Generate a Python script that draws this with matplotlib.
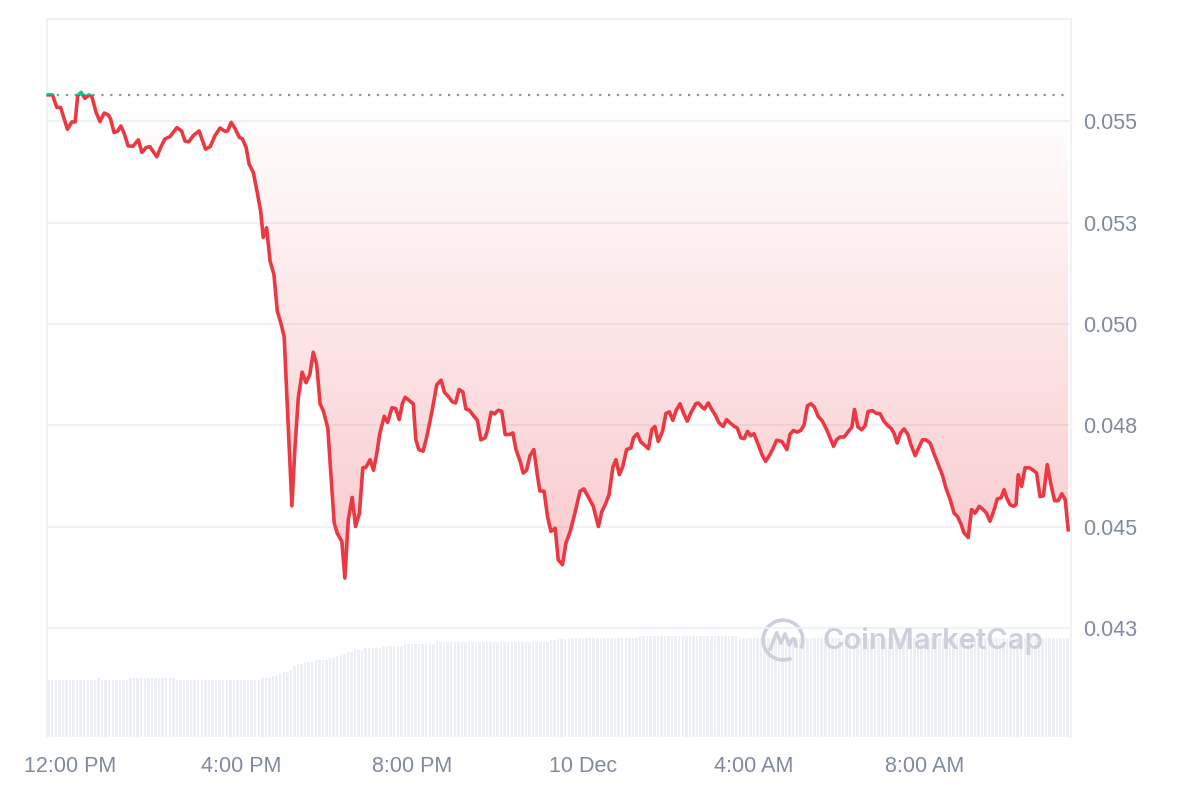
import numpy as np
import matplotlib
matplotlib.use("Agg")
import matplotlib.pyplot as plt
from matplotlib.patches import Rectangle, Arc

# hours after 12:00 PM (9 Dec)
hours = [
    -0.51, -0.41, -0.31, -0.22, -0.06, 0.04, 0.12, 0.18, 0.26, 0.35,
    0.44, 0.51, 0.61, 0.70, 0.80, 0.90, 0.95, 1.03, 1.11, 1.19,
    1.26, 1.36, 1.47, 1.60, 1.68, 1.78, 1.87, 2.03, 2.12, 2.22,
    2.34, 2.50, 2.61, 2.69, 2.78, 2.88, 3.02, 3.17, 3.28, 3.39,
    3.51, 3.63, 3.69, 3.77, 3.86, 3.96, 4.03, 4.12, 4.19, 4.29,
    4.38, 4.46, 4.52, 4.60, 4.68, 4.77, 4.85, 4.93, 5.01, 5.19,
    5.26, 5.34, 5.43, 5.52, 5.61, 5.69, 5.77, 5.85, 5.93, 6.03,
    6.18, 6.25, 6.36, 6.43, 6.51, 6.60, 6.68, 6.77, 6.85, 6.92,
    7.02, 7.10, 7.17, 7.25, 7.35, 7.43, 7.53, 7.62, 7.70, 7.78,
    7.84, 7.91, 8.03, 8.09, 8.16, 8.26, 8.34, 8.46, 8.58, 8.68,
    8.76, 8.85, 8.94, 9.02, 9.10, 9.19, 9.26, 9.34, 9.45, 9.53,
    9.61, 9.71, 9.77, 9.85, 9.93, 10.02, 10.10, 10.18, 10.28, 10.36,
    10.43, 10.53, 10.60, 10.68, 10.76, 10.85, 10.92, 10.99, 11.09, 11.17,
    11.25, 11.35, 11.42, 11.52, 11.60, 11.70, 11.81, 11.93, 12.02, 12.12,
    12.24, 12.36, 12.44, 12.52, 12.61, 12.70, 12.77, 12.85, 12.93, 13.02,
    13.12, 13.18, 13.27, 13.35, 13.45, 13.53, 13.61, 13.68, 13.76, 13.86,
    13.94, 14.02, 14.10, 14.18, 14.27, 14.35, 14.44, 14.52, 14.64, 14.70,
    14.78, 14.84, 14.93, 15.01, 15.09, 15.18, 15.28, 15.36, 15.46, 15.54,
    15.61, 15.69, 15.77, 15.85, 15.92, 16.00, 16.10, 16.19, 16.27, 16.37,
    16.45, 16.53, 16.65, 16.77, 16.84, 16.92, 17.01, 17.09, 17.17, 17.25,
    17.33, 17.41, 17.50, 17.60, 17.70, 17.78, 17.86, 17.93, 18.01, 18.11,
    18.21, 18.29, 18.35, 18.43, 18.52, 18.60, 18.67, 18.77, 18.85, 18.95,
    19.04, 19.12, 19.21, 19.28, 19.35, 19.43, 19.51, 19.60, 19.67, 19.77,
    19.84, 19.94, 20.02, 20.12, 20.21, 20.31, 20.41, 20.49, 20.59, 20.68,
    20.76, 20.84, 20.91, 21.01, 21.09, 21.17, 21.27, 21.36, 21.44, 21.52,
    21.61, 21.69, 21.78, 21.85, 21.91, 21.99, 22.07, 22.13, 22.18, 22.26,
    22.34, 22.44, 22.53, 22.61, 22.69, 22.77, 22.86, 22.94, 23.03, 23.12,
    23.20, 23.28, 23.35,
]

price = [
    0.05565, 0.05565, 0.05534, 0.05534, 0.05480, 0.05498, 0.05498, 0.05563, 0.05571, 0.05556,
    0.05565, 0.05561, 0.05522, 0.05499, 0.05520, 0.05515, 0.05505, 0.05472, 0.05475, 0.05488,
    0.05472, 0.05439, 0.05438, 0.05454, 0.05423, 0.05435, 0.05437, 0.05412, 0.05435, 0.05456,
    0.05462, 0.05484, 0.05476, 0.05451, 0.05449, 0.05464, 0.05476, 0.05431, 0.05437, 0.05464,
    0.05483, 0.05475, 0.05476, 0.05497, 0.05482, 0.05460, 0.05457, 0.05435, 0.05394, 0.05373,
    0.05324, 0.05278, 0.05213, 0.05237, 0.05155, 0.05122, 0.05031, 0.05003, 0.04968, 0.04551,
    0.04690, 0.04817, 0.04881, 0.04855, 0.04875, 0.04930, 0.04900, 0.04803, 0.04784, 0.04743,
    0.04509, 0.04484, 0.04463, 0.04373, 0.04517, 0.04572, 0.04500, 0.04533, 0.04645, 0.04646,
    0.04665, 0.04639, 0.04677, 0.04731, 0.04772, 0.04757, 0.04793, 0.04791, 0.04764, 0.04805,
    0.04819, 0.04813, 0.04803, 0.04714, 0.04690, 0.04686, 0.04719, 0.04780, 0.04850, 0.04861,
    0.04831, 0.04821, 0.04808, 0.04805, 0.04838, 0.04832, 0.04790, 0.04787, 0.04772, 0.04762,
    0.04714, 0.04719, 0.04739, 0.04782, 0.04778, 0.04787, 0.04784, 0.04727, 0.04727, 0.04731,
    0.04691, 0.04661, 0.04632, 0.04639, 0.04675, 0.04690, 0.04636, 0.04588, 0.04587, 0.04525,
    0.04488, 0.04496, 0.04418, 0.04406, 0.04459, 0.04488, 0.04533, 0.04587, 0.04593, 0.04574,
    0.04550, 0.04500, 0.04537, 0.04554, 0.04579, 0.04647, 0.04665, 0.04628, 0.04648, 0.04690,
    0.04694, 0.04719, 0.04729, 0.04709, 0.04700, 0.04692, 0.04739, 0.04747, 0.04710, 0.04735,
    0.04779, 0.04783, 0.04762, 0.04787, 0.04803, 0.04780, 0.04760, 0.04780, 0.04803, 0.04805,
    0.04795, 0.04790, 0.04805, 0.04789, 0.04776, 0.04756, 0.04747, 0.04764, 0.04754, 0.04747,
    0.04743, 0.04719, 0.04717, 0.04735, 0.04724, 0.04729, 0.04702, 0.04677, 0.04661, 0.04677,
    0.04694, 0.04713, 0.04710, 0.04690, 0.04727, 0.04737, 0.04733, 0.04737, 0.04750, 0.04798,
    0.04803, 0.04795, 0.04772, 0.04760, 0.04739, 0.04719, 0.04698, 0.04714, 0.04721, 0.04721,
    0.04735, 0.04745, 0.04789, 0.04746, 0.04739, 0.04749, 0.04784, 0.04786, 0.04780, 0.04778,
    0.04760, 0.04750, 0.04742, 0.04729, 0.04706, 0.04731, 0.04741, 0.04727, 0.04702, 0.04675,
    0.04691, 0.04714, 0.04714, 0.04706, 0.04680, 0.04653, 0.04626, 0.04595, 0.04566, 0.04533,
    0.04525, 0.04507, 0.04485, 0.04473, 0.04542, 0.04533, 0.04550, 0.04542, 0.04533, 0.04513,
    0.04539, 0.04568, 0.04571, 0.04591, 0.04571, 0.04554, 0.04550, 0.04554, 0.04628, 0.04599,
    0.04645, 0.04645, 0.04639, 0.04632, 0.04574, 0.04576, 0.04653, 0.04607, 0.04564, 0.04564,
    0.04581, 0.04566, 0.04492,
]

open_price = 0.05564

# volume per 5-minute bar (millions), first bar at 11:30 AM
volume = [
    2.28, 2.28, 2.28, 2.28, 2.28, 2.28, 2.28, 2.28, 2.28, 2.28, 2.28, 2.28,
    2.28, 2.28, 2.34, 2.28, 2.28, 2.28, 2.28, 2.28, 2.28, 2.28, 2.28, 2.35,
    2.35, 2.35, 2.35, 2.35, 2.35, 2.35, 2.35, 2.35, 2.35, 2.35, 2.35, 2.35,
    2.28, 2.28, 2.28, 2.28, 2.28, 2.28, 2.28, 2.28, 2.28, 2.28, 2.28, 2.28,
    2.28, 2.28, 2.28, 2.28, 2.28, 2.28, 2.28, 2.28, 2.28, 2.28, 2.28, 2.28,
    2.35, 2.35, 2.35, 2.43, 2.43, 2.51, 2.60, 2.60, 2.68, 2.84, 2.92, 2.92,
    3.00, 3.00, 3.00, 3.08, 3.08, 3.08, 3.08, 3.16, 3.16, 3.24, 3.32, 3.32,
    3.40, 3.40, 3.48, 3.48, 3.48, 3.56, 3.56, 3.56, 3.56, 3.56, 3.64, 3.64,
    3.64, 3.64, 3.64, 3.64, 3.72, 3.72, 3.72, 3.72, 3.72, 3.72, 3.72, 3.72,
    3.72, 3.80, 3.80, 3.80, 3.80, 3.80, 3.80, 3.80, 3.80, 3.80, 3.80, 3.80,
    3.80, 3.80, 3.80, 3.80, 3.80, 3.80, 3.80, 3.80, 3.80, 3.80, 3.80, 3.80,
    3.80, 3.80, 3.80, 3.80, 3.80, 3.80, 3.80, 3.80, 3.80, 3.88, 3.88, 3.90,
    3.90, 3.90, 3.90, 3.94, 3.94, 3.94, 3.94, 3.94, 3.94, 3.94, 3.94, 3.94,
    3.94, 3.94, 3.94, 3.94, 3.94, 3.94, 3.94, 3.94, 3.94, 3.94, 4.03, 4.03,
    4.03, 4.03, 4.03, 4.03, 4.03, 4.03, 4.03, 4.03, 4.03, 4.03, 4.03, 4.03,
    4.03, 4.03, 4.03, 4.03, 4.03, 4.03, 4.03, 4.03, 4.03, 4.03, 4.03, 4.03,
    4.03, 4.03, 3.94, 3.94, 3.94, 3.94, 3.94, 3.94, 3.94, 3.94, 3.94, 3.94,
    3.94, 3.94, 3.94, 3.94, 3.94, 3.94, 3.94, 3.94, 3.94, 3.94, 3.94, 3.94,
    3.94, 3.94, 3.94, 3.94, 3.94, 3.94, 3.94, 3.94, 3.94, 3.94, 3.94, 3.94,
    3.94, 3.94, 3.94, 3.94, 3.94, 3.94, 3.94, 3.94, 3.94, 3.94, 3.94, 3.94,
    3.94, 3.94, 3.94, 3.94, 3.94, 3.94, 3.94, 3.94, 3.94, 3.94, 3.94, 3.94,
    3.94, 3.94, 3.94, 3.94, 3.94, 3.94, 3.94, 3.94, 3.94, 3.94, 3.94, 3.94,
    3.94, 3.94, 3.94, 3.94, 3.94, 3.94, 3.94, 3.94, 3.94, 3.94, 3.94, 3.94,
    3.94, 3.94, 3.94, 3.94, 3.94, 3.94, 3.94, 3.94, 3.94, 3.94, 3.94, 3.94,
]

x_ticks = [0, 4, 8, 12, 16, 20]
x_labels = ["12:00 PM", "4:00 PM", "8:00 PM", "10 Dec", "4:00 AM", "8:00 AM"]
y_ticks = [0.0425, 0.045, 0.0475, 0.050, 0.0525, 0.055]
y_labels = ["0.043", "0.045", "0.048", "0.050", "0.053", "0.055"]

RED = "#ea3943"
GREEN = "#16c784"
GRAY = "#808a9d"
LINE = "#eff2f5"

plt.rcParams["font.family"] = ["Liberation Sans", "DejaVu Sans"]

hours = np.array(hours)
price = np.array(price)
vol_t = (np.arange(len(volume)) * 5 - 30) / 60.0

fig = plt.figure(figsize=(12, 8), dpi=100)
ax = fig.add_axes([47 / 1200, 1 - 737 / 800, 1024 / 1200, 718 / 800])
ax_vol = ax.twinx()
ax.set_zorder(ax_vol.get_zorder() + 1)
ax.patch.set_visible(False)

x0, x1 = -0.538, 23.415

# volume bars
ax_vol.bar(vol_t, volume, width=5 / 60 * 0.7, color="#eceff3", linewidth=0)
ax_vol.set_ylim(0, 28.7)
ax_vol.set_yticks([])
for s in ax_vol.spines.values():
    s.set_visible(False)

# gradient fills between price and open price
lo = np.minimum(price, open_price)
hi = np.maximum(price, open_price)
red_poly = ax.fill_between(hours, lo, open_price, color="none", linewidth=0)
green_poly = ax.fill_between(hours, open_price, hi, color="none", linewidth=0)

n = 256
red_img = np.zeros((n, 2, 4))
red_img[:, :, :3] = matplotlib.colors.to_rgb(RED)
red_img[:, :, 3] = np.linspace(0.27, 0.0, n)[:, None]
im = ax.imshow(red_img, extent=[x0, x1, price.min(), open_price], origin="lower",
               aspect="auto", zorder=1, interpolation="bilinear")
im.set_clip_path(red_poly.get_paths()[0], transform=ax.transData)

green_img = np.zeros((n, 2, 4))
green_img[:, :, :3] = matplotlib.colors.to_rgb(GREEN)
green_img[:, :, 3] = np.linspace(0.0, 0.27, n)[:, None]
im2 = ax.imshow(green_img, extent=[x0, x1, open_price, price.max() + 1e-6], origin="lower",
                aspect="auto", zorder=1, interpolation="bilinear")
im2.set_clip_path(green_poly.get_paths()[0], transform=ax.transData)

# open price reference
ax.plot([hours[0], hours[-1]], [open_price, open_price], color="#8a919e",
        lw=1.6, linestyle=(0, (1, 3)), zorder=2)

# price line, red below open, green above
ln_r, = ax.plot(hours, price, color=RED, lw=2.6, zorder=3, solid_joinstyle="round")
ln_r.set_clip_path(Rectangle((x0 - 1, 0), 30, open_price, transform=ax.transData))
ln_g, = ax.plot(hours, price, color=GREEN, lw=2.6, zorder=3, solid_joinstyle="round")
ln_g.set_clip_path(Rectangle((x0 - 1, open_price), 30, 1, transform=ax.transData))

ax.set_xlim(x0, x1)
ax.set_ylim(0.03981, 0.05752)

ax.yaxis.tick_right()
ax.set_yticks(y_ticks)
ax.set_yticklabels(y_labels)
ax.set_xticks(x_ticks)
ax.set_xticklabels(x_labels)
ax.tick_params(axis="y", length=0, pad=8.5, labelsize=15.5, labelcolor=GRAY)
ax.tick_params(axis="x", length=0, pad=14, labelsize=15.5, labelcolor=GRAY)
ax.grid(axis="y", color=LINE, lw=1.3)
ax.set_axisbelow(True)
for side in ["left", "top", "right"]:
    ax.spines[side].set_color(LINE)
    ax.spines[side].set_linewidth(1.3)
ax.spines["bottom"].set_visible(False)

# watermark
wm = "#cbd0da"
fig.text(822 / 1200, 1 - 641 / 800, "CoinMarketCap", family=["Inter", "DejaVu Sans"],
         fontweight="semibold", fontsize=21, color=wm, va="center", ha="left")
logo = fig.add_axes([760 / 1200, 1 - 663 / 800, 46 / 1200, 46 / 800])
logo.set_xlim(-1.1, 1.1)
logo.set_ylim(-1.1, 1.1)
logo.axis("off")
logo.add_patch(Arc((0, 0), 1.9, 1.9, theta1=-25, theta2=295, color=wm, lw=2.6))
logo.plot([-0.62, -0.3, -0.1, 0.1, 0.3, 0.45, 0.55, 0.62],
          [-0.45, 0.35, -0.15, 0.3, -0.25, 0.05, 0.05, -0.3],
          color=wm, lw=2.4, solid_capstyle="round", solid_joinstyle="round")

fig.savefig("out.png", dpi=100)
